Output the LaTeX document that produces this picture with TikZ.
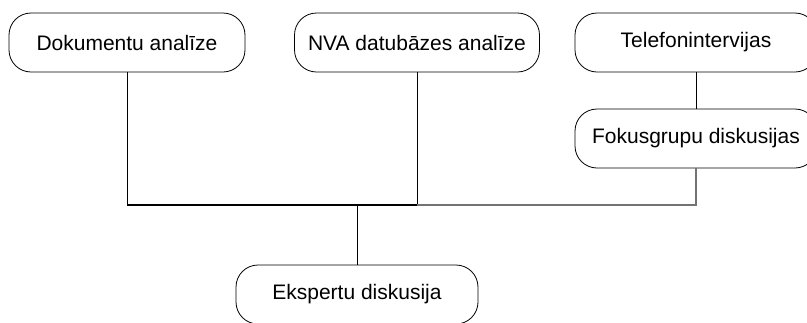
\documentclass[tikz,border=0pt]{standalone}
\usepackage{fontspec}
\setmainfont{Liberation Sans}
\usepackage{tikz}
\usetikzlibrary{positioning}

\tikzset{
    box/.style={draw, line width=0.8pt, rounded corners=22pt, minimum width=242pt, minimum height=59pt, inner sep=0pt, font=\fontsize{21}{25}\selectfont},
    link/.style={line width=0.8pt},
    bar/.style={line width=1.4pt},
    greylink/.style={line width=1.2pt, black!55}
}

\begin{document}
\begin{tikzpicture}[x=1pt, y=1pt]
        \useasboundingbox (0,0) rectangle (807,-322);
        \clip (0,0) rectangle (807,-322);

        \node [box, minimum width=236pt] (dok) at (127,-42.5) {Dokumentu analīze};
        \node [box, minimum width=245pt] (nva) at (417,-42.5) {NVA datubāzes analīze};
        \node [box] (tel) at (696,-42.5) {Telefonintervijas};
        \node [box] (fok) at (696,-138.5) {Fokusgrupu diskusijas};
        \node [box] (eks) at (357,-294.5) {Ekspertu diskusija};

        \coordinate (mid) at (357,-205);

        \draw [link] (tel) -- (fok);
        \draw [link] (dok.south) -- (dok.south |- mid);
        \draw [link] (nva.south) -- (nva.south |- mid);
        \draw [greylink] (nva.south |- mid) -- (fok.south |- mid) -- (fok.south);
        \draw [bar] (dok.south |- mid) -- (nva.south |- mid);
        \draw [link] (mid) -- (eks.north);
    \end{tikzpicture}
\end{document}
